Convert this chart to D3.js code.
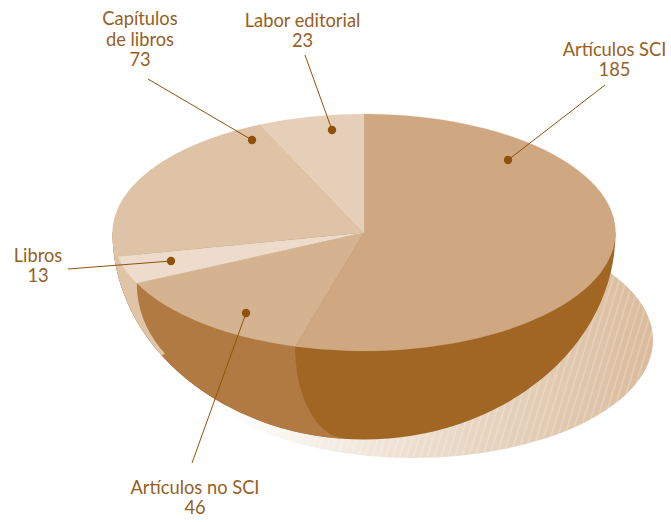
<!DOCTYPE html>
<html><head><meta charset="utf-8">
<script src="https://cdn.jsdelivr.net/npm/d3@7/dist/d3.min.js"></script>
<style>html,body{margin:0;padding:0;background:#fff}svg{display:block}</style>
</head><body><svg id="c" width="671" height="522"></svg>
<script>
const categories = ["Artículos SCI","Artículos no SCI","Libros","Capítulos de libros","Labor editorial"];
const values = [185,46,13,73,23];
const topColors = ["#cfa882","#d5b391","#eddccb","#dec3a6","#e5cfb9"];
const sideColors = ["#a16623","#b07a42","#dfc4a7","#dfc4a7","#dfc4a7"];
const labelLines = [["Artículos SCI","185"],["Artículos no SCI","46"],["Libros","13"],["Capítulos","de libros","73"],["Labor editorial","23"]];
const labelX = [614.5,195,38,140,302.5];
const labelY = [[56,76],[494,514],[262,282],[25,46,66],[27,47]];
const leaderFrom = [[605,85],[192,463],[68,269],[148,79],[305,55]];
const leaderTo = [[508,160],[246,313],[171,261],[252,140],[332,130]];

const W=671,H=522, cx=364, cy=232.5, rx=251.5, ryTop=118.5, ryBowl=207;
const depth=Math.sqrt(ryBowl*ryBowl-ryTop*ryTop);
const ink="#96601f", dotInk="#8f5208";
const svg=d3.select("#c");
const defs=svg.append("defs");

const grad=defs.append("linearGradient").attr("id","sh").attr("x1",0).attr("x2",1).attr("y1",0).attr("y2",0);
grad.append("stop").attr("offset",.1).attr("stop-color","#fff");
grad.append("stop").attr("offset",.55).attr("stop-color","#eadbca");
grad.append("stop").attr("offset",1).attr("stop-color","#dabb9b");
const hatch=defs.append("pattern").attr("id","ha").attr("patternUnits","userSpaceOnUse")
  .attr("width",6.6).attr("height",20).attr("patternTransform","rotate(17)");
hatch.append("line").attr("x1",1).attr("x2",1).attr("y1",0).attr("y2",20)
  .attr("stroke","#fff").attr("stroke-opacity",.42).attr("stroke-width",.9);

// shadow
[ "url(#sh)", "url(#ha)" ].forEach(f=>svg.append("ellipse").attr("cx",413).attr("cy",340).attr("rx",240).attr("ry",118).attr("fill",f));

const pie=d3.pie().sort(null).value(d=>d)(values);

// bowl clip: lower half of the silhouette ellipse
const clip=defs.append("clipPath").attr("id","bowl");
clip.append("path").attr("d",
  `M${cx-rx},${cy}A${rx},${ryBowl} 0 0 0 ${cx+rx},${cy}Z`);
const bowl=svg.append("g").attr("clip-path","url(#bowl)");

// point on the bowl: a = angle clockwise from top, p = descent; the meridian tapers toward the pole
const sph=(a,p)=>{
  const c=Math.cos(p), s=Math.sin(p), ca=Math.cos(a), taper=1-.6*ca*ca*s*s;
  return [cx+rx*Math.sin(a)*c*taper, cy-ryTop*ca*c+depth*s];
};
const meridian=a=>{
  const pts=[];let peak=-1;
  for(const p of d3.range(0,Math.PI/2,.01)){
    const q=sph(a,p), r=((q[0]-cx)/rx)**2+((q[1]-cy)/ryBowl)**2;
    if(r<peak) break;
    peak=r;
    pts.push(q);
  }
  return pts;
};
const line=d3.line();
// paint from the right hand side to the left: each wedge covers everything left of its meridian
bowl.append("rect").attr("width",W).attr("height",H).attr("fill",sideColors[0]);
pie.forEach((s,i)=>{
  if(i===0||i>2) return;
  const m=meridian(s.startAngle), e=m[m.length-1];
  const out=[e[0]+(e[0]-cx),e[1]+(e[1]-cy)];
  bowl.append("path").attr("fill",sideColors[i]).attr("d",
    line([...m,out,[-200,H+200],[-200,-200],[m[0][0],-200]])+"Z");
});

// top face
const arc=d3.arc().innerRadius(0).outerRadius(rx);
svg.append("g").attr("transform",`translate(${cx},${cy}) scale(1,${ryTop/rx})`)
  .selectAll("path").data(pie).join("path")
  .attr("d",arc).attr("fill",(d,i)=>topColors[i]).attr("stroke",(d,i)=>topColors[i]).attr("stroke-width",.3);

// leaders
const lab=svg.append("g");
categories.forEach((c,i)=>{
  lab.append("line").attr("x1",leaderFrom[i][0]).attr("y1",leaderFrom[i][1]).attr("x2",leaderTo[i][0]).attr("y2",leaderTo[i][1])
    .attr("stroke",dotInk).attr("stroke-width",1);
  lab.append("circle").attr("cx",leaderTo[i][0]).attr("cy",leaderTo[i][1]).attr("r",4.2).attr("fill",dotInk);
  labelLines[i].forEach((t,j)=>lab.append("text").attr("x",labelX[i]).attr("y",labelY[i][j])
    .attr("text-anchor","middle").attr("font-family","Lato").attr("font-size",18.3).attr("fill",ink).text(t));
});
</script></body></html>
